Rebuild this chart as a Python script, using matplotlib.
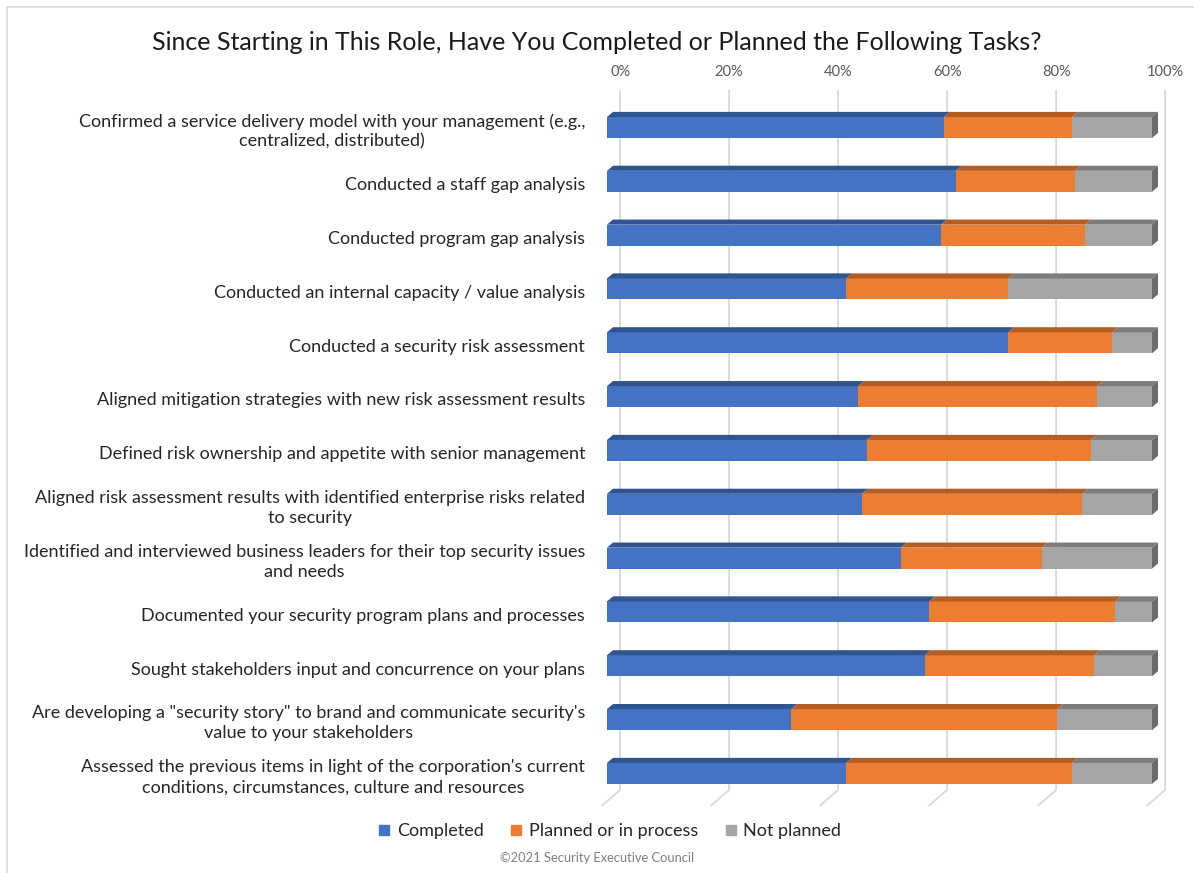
import matplotlib.pyplot as plt
from matplotlib.patches import Polygon, Rectangle
from matplotlib.lines import Line2D

plt.rcParams['font.family'] = ['Lato', 'DejaVu Sans']

tasks = [
    "Confirmed a service delivery model with your management (e.g.,\ncentralized, distributed)",
    "Conducted a staff gap analysis",
    "Conducted program gap analysis",
    "Conducted an internal capacity / value analysis",
    "Conducted a security risk assessment",
    "Aligned mitigation strategies with new risk assessment results",
    "Defined risk ownership and appetite with senior management",
    "Aligned risk assessment results with identified enterprise risks related\nto security",
    "Identified and interviewed business leaders for their top security issues\nand needs",
    "Documented your security program plans and processes",
    "Sought stakeholders input and concurrence on your plans",
    "Are developing a \"security story\" to brand and communicate security's\nvalue to your stakeholders",
    "Assessed the previous items in light of the corporation's current\nconditions, circumstances, culture and resources",
]
completed = [61.8, 64.0, 61.3, 43.9, 73.6, 46.1, 47.7, 46.8, 53.9, 59.1, 58.3, 33.8, 43.9]
planned = [23.5, 21.9, 26.4, 29.7, 19.1, 43.8, 41.1, 40.4, 25.9, 34.1, 31.1, 48.8, 41.4]
not_planned = [100 - c - p for c, p in zip(completed, planned)]

series = ["Completed", "Planned or in process", "Not planned"]
front_cols = ["#4472C4", "#ED7D31", "#A5A5A5"]
top_cols = ["#30548F", "#B55C22", "#7C7C7C"]
side_col = "#6B6B6B"
ticks = [0, 20, 40, 60, 80, 100]

W, H = 1194, 873
fig = plt.figure(figsize=(W / 100, H / 100), dpi=100)

# plot area in pixels: x=0% at 607px, 100% at 1152px; row i centre at 127.5 + 53.83*i
px0, pxs = 607, 5.45
py0, pys = 127.5, 53.83
L, R, T, B = 595, 1180, 80, 820
ax = fig.add_axes([L / W, 1 - B / H, (R - L) / W, (B - T) / H])
ax.set_xlim((L - px0) / pxs, (R - px0) / pxs)
ax.set_ylim((B - py0) / pys, (T - py0) / pys)
ax.axis("off")

dx, dy = 1.1, 0.095      # depth offset of top face
bdx = 2.4                # back wall offset
grid_top = (90 - py0) / pys
grid_bot = (790 - py0) / pys
grid_front = (806 - py0) / pys
for t in ticks:
    ax.plot([t + bdx, t + bdx, t - 1.0], [grid_top, grid_bot, grid_front],
            color="#D9D9D9", lw=1.3, zorder=0, solid_capstyle="butt")
    ax.text(t + bdx, (72 - py0) / pys, f"{t}%", ha="center", va="center",
            fontsize=10.5, color="#595959")

h = 0.39
for i in range(len(tasks)):
    vals = [completed[i], planned[i], not_planned[i]]
    left = 0
    yt = i - h / 2
    for v, fc, tc in zip(vals, front_cols, top_cols):
        ax.add_patch(Rectangle((left, yt), v, h, facecolor=fc, edgecolor="none", zorder=2))
        ax.add_patch(Polygon([(left, yt), (left + v, yt), (left + v + dx, yt - dy),
                              (left + dx, yt - dy)], closed=True, facecolor=tc,
                             edgecolor="none", zorder=2))
        left += v
    ax.add_patch(Polygon([(left, yt), (left + dx, yt - dy), (left + dx, yt + h - dy),
                          (left, yt + h)], closed=True, facecolor=side_col,
                         edgecolor="none", zorder=2))
    ax.text(-4.0, i + 0.07, tasks[i], ha="right", va="center", multialignment="center",
            fontsize=13, color="#262626", linespacing=1.3)

fig.text(0.5, 1 - 42 / H,
         "Since Starting in This Role, Have You Completed or Planned the Following Tasks?",
         ha="center", va="center", fontsize=18, color="#1a1a1a")

handles = [Line2D([], [], marker="s", ls="none", markersize=7, color=c) for c in front_cols]
fig.legend(handles, series, loc="center", bbox_to_anchor=(610 / W, 1 - 831 / H), ncol=3,
           frameon=False, fontsize=13, handlelength=0.6, handletextpad=0.4,
           columnspacing=1.5, labelcolor="#262626")

fig.text(0.5, 1 - 858 / H, "\u00a92021 Security Executive Council", ha="center", va="center",
         fontsize=9.3, color="#7F7F7F")

fig.add_artist(Rectangle((7 / W, -0.1), 1.2, 1 - 7 / H + 0.1, transform=fig.transFigure,
                         fill=False, edgecolor="#D9D9D9", lw=1.2))

fig.savefig("out.png", dpi=100)
